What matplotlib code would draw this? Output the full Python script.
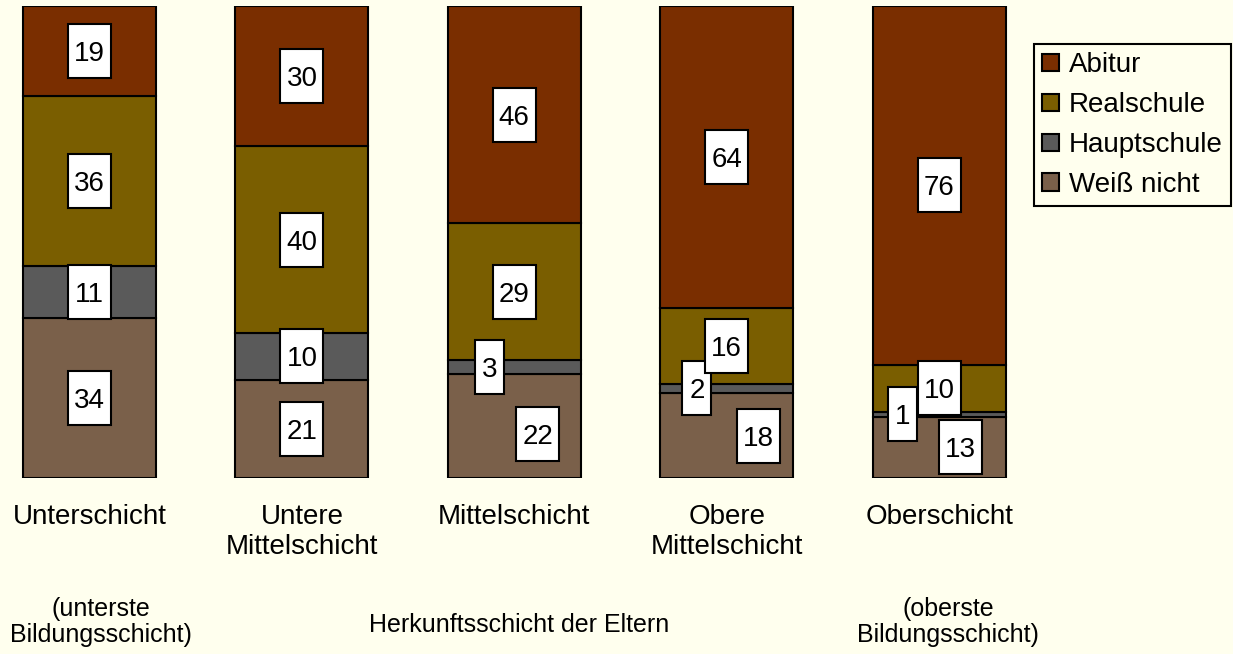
import matplotlib
matplotlib.use("Agg")
import matplotlib.pyplot as plt
import numpy as np
from matplotlib.patches import Rectangle
from matplotlib.transforms import ScaledTranslation

plt.rcParams["font.family"] = ["Liberation Sans", "DejaVu Sans"]

# Daten
categories = ["Unterschicht", "Untere\nMittelschicht", "Mittelschicht",
              "Obere\nMittelschicht", "Oberschicht"]
series_names = ["Weiß nicht", "Hauptschule", "Realschule", "Abitur"]
weiss_nicht = [34, 21, 22, 18, 13]
hauptschule = [11, 10, 3, 2, 1]
realschule = [36, 40, 29, 16, 10]
abitur = [19, 30, 46, 64, 76]
sub_left = "(unterste\nBildungsschicht)"
sub_right = "(oberste\nBildungsschicht)"
x_title = "Herkunftsschicht der Eltern"

colors = ["#7A604A", "#5A5A5A", "#7A5E00", "#7A2E00"]
bg = "#FFFFEE"

# Verschiebung kleiner Beschriftungen (dx in Balkenabständen, dy in Prozent)
label_shift = {(2, 0): (0.11, -1.6), (3, 0): (0.15, 0.0), (4, 0): (0.10, 0.0),
               (2, 1): (-0.115, 0.0), (3, 1): (-0.14, 0.0), (4, 1): (-0.17, 0.0)}

series = np.array([weiss_nicht, hauptschule, realschule, abitur], dtype=float)
pct = series / series.sum(axis=0) * 100

fig = plt.figure(figsize=(12.33, 6.54), dpi=100, facecolor=bg)
W, H = 1233, 654
step = 212.4
ax = fig.add_axes([0, (H - 478) / H, 1020 / W, 472 / H])
ax.set_facecolor(bg)
x = np.arange(len(categories))

handles = []
bottom = np.zeros(len(categories))
for i, name in enumerate(series_names):
    b = ax.bar(x, pct[i], width=133 / step, bottom=bottom, color=colors[i],
               edgecolor="black", linewidth=1.5, label=name, zorder=2)
    handles.append(b)
    bottom += pct[i]

# Wertekästen
dpi = fig.dpi
k = 0
for j in range(len(categories)):
    base = 0
    for i in range(len(series_names)):
        v = int(series[i, j])
        mid = base + pct[i, j] / 2
        base += pct[i, j]
        dx, dy = label_shift.get((j, i), (0, 0))
        xx, yy = x[j] + dx, mid + dy
        w = 43 if v >= 10 else 29
        h = 54
        tr = fig.dpi_scale_trans + ScaledTranslation(xx, yy, ax.transData)
        rect = Rectangle((-w / 2 / dpi, -h / 2 / dpi), w / dpi, h / dpi, transform=tr,
                         facecolor="white", edgecolor="black", linewidth=1.5,
                         zorder=4 + 0.01 * k)
        ax.add_artist(rect)
        ax.text(xx, yy, str(v), ha="center", va="center_baseline", fontsize=20,
                zorder=4.005 + 0.01 * k)
        k += 1

ax.set_xlim(-89.5 / step, (1020 - 89.5) / step)
ax.set_ylim(0, 100)
ax.set_yticks([])
ax.set_xticks(x, categories, fontsize=20)
ax.tick_params(axis="x", length=0, pad=19)
for s in ax.spines.values():
    s.set_visible(False)

tx = ax.get_xaxis_transform()
ax.text((101 - 89.5) / step, -0.305, sub_left, transform=tx, ha="center", va="center",
        fontsize=18, linespacing=1.15)
ax.text((948 - 89.5) / step, -0.305, sub_right, transform=tx, ha="center", va="center",
        fontsize=18, linespacing=1.15)
ax.text((519 - 89.5) / step, -0.311, x_title, transform=tx, ha="center", va="center",
        fontsize=18)

leg = fig.legend(handles[::-1], series_names[::-1], loc="upper left",
                 bbox_to_anchor=(1034 / W, 1 - 44 / H), borderaxespad=0,
                 fancybox=False, edgecolor="black", facecolor=bg, framealpha=1,
                 fontsize=20, handlelength=0.6, handleheight=0.6, handletextpad=0.35,
                 labelspacing=0.5, borderpad=0.3)
leg.get_frame().set_linewidth(1.5)

fig.savefig("out.png", dpi=100, facecolor=bg)
